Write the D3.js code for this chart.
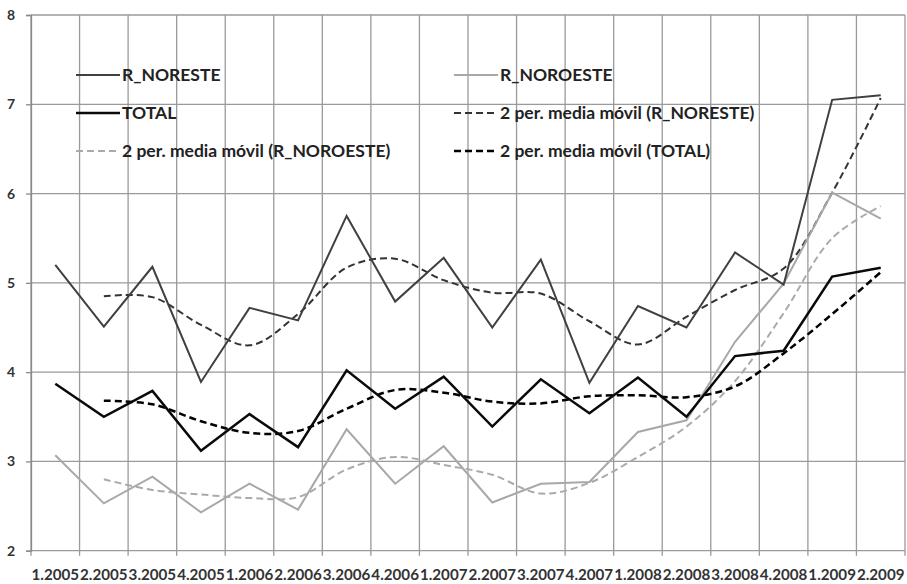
<!DOCTYPE html>
<html>
<head>
<meta charset="utf-8">
<script src="https://cdn.jsdelivr.net/npm/d3@7"></script>
<style>
  body { margin: 0; background: #fff; }
  text { font-family: Lato, "Open Sans", sans-serif; font-weight: bold; }
</style>
</head>
<body>
<script>
// chart data
var categories = ["1.2005", "2.2005", "3.2005", "4.2005", "1.2006", "2.2006", "3.2006", "4.2006",
  "1.2007", "2.2007", "3.2007", "4.2007", "1.2008", "2.2008", "3.2008", "4.2008", "1.2009", "2.2009"];
var noreste = [5.20, 4.51, 5.18, 3.89, 4.72, 4.58, 5.75, 4.79, 5.28, 4.50, 5.26, 3.88, 4.74, 4.50, 5.34, 4.98, 7.05, 7.10];
var noroeste = [3.07, 2.53, 2.83, 2.43, 2.75, 2.46, 3.36, 2.75, 3.17, 2.54, 2.75, 2.77, 3.33, 3.46, 4.34, 4.99, 6.01, 5.72];
var total = [3.87, 3.50, 3.79, 3.12, 3.53, 3.16, 4.02, 3.59, 3.95, 3.39, 3.92, 3.54, 3.94, 3.50, 4.18, 4.24, 5.07, 5.17];
// 2 per. media movil (first period has no value)
var maNoreste = [null, 4.85, 4.84, 4.53, 4.30, 4.65, 5.17, 5.27, 5.03, 4.89, 4.88, 4.57, 4.31, 4.62, 4.92, 5.16, 6.01, 7.07];
var maNoroeste = [null, 2.80, 2.68, 2.63, 2.59, 2.60, 2.91, 3.05, 2.96, 2.85, 2.64, 2.76, 3.05, 3.39, 3.90, 4.66, 5.50, 5.86];
var maTotal = [null, 3.68, 3.64, 3.45, 3.32, 3.34, 3.59, 3.80, 3.77, 3.67, 3.65, 3.73, 3.74, 3.72, 3.84, 4.21, 4.65, 5.12];
var yTicks = [2, 3, 4, 5, 6, 7, 8];

var w = 907;
var h = 584;
var plotLeft = 31, plotRight = 905, plotTop = 15, plotBottom = 550.7;

var svg = d3.select("body")
            .append("svg")
            .attr("width", w)
            .attr("height", h);

var x = d3.scaleBand()
  .domain(categories)
  .range([plotLeft, plotRight]);

var y = d3.scaleLinear()
  .domain([2, 8])
  .range([plotBottom, plotTop]);

// horizontal grid
svg.append("g").selectAll("line")
  .data(yTicks)
  .enter()
  .append("line")
  .attr("x1", plotLeft)
  .attr("x2", plotRight)
  .attr("y1", function(d) { return y(d); })
  .attr("y2", function(d) { return y(d); })
  .style("stroke", "#9a9a9a")
  .style("stroke-width", "1.3px");

// vertical grid at category boundaries
var bounds = categories.map(function(c) { return x(c); }).concat([plotRight]);
svg.append("g").selectAll("line")
  .data(bounds)
  .enter()
  .append("line")
  .attr("x1", function(d) { return d; })
  .attr("x2", function(d) { return d; })
  .attr("y1", plotTop)
  .attr("y2", plotBottom + 5)
  .style("stroke", "#9a9a9a")
  .style("stroke-width", "1.3px");

// y axis
var yAxis = svg.append("g")
  .attr("transform", "translate(" + plotLeft + ",0)")
  .call(d3.axisLeft(y).tickValues(yTicks).tickFormat(d3.format("d")).tickSize(5).tickPadding(11));
yAxis.select(".domain").style("stroke", "#8a8a8a").style("stroke-width", "1.3px");
yAxis.selectAll(".tick line").style("stroke", "#8a8a8a").style("stroke-width", "1.3px");
yAxis.selectAll("text")
  .style("font-family", "Lato, sans-serif")
  .style("font-weight", "bold")
  .style("font-size", "14px")
  .style("fill", "#333");

// x labels
svg.append("g").selectAll("text")
  .data(categories)
  .enter()
  .append("text")
  .text(function(d) { return d; })
  .attr("x", function(d) { return x(d) + x.bandwidth() / 2; })
  .attr("y", 580)
  .attr("text-anchor", "middle")
  .attr("textLength", x.bandwidth() - 1)
  .attr("lengthAdjust", "spacingAndGlyphs")
  .style("font-size", "15px")
  .style("fill", "#333");

// series
var series = [
  { name: "R_NORESTE", values: noreste, color: "#404040", width: 2, dash: null },
  { name: "R_NOROESTE", values: noroeste, color: "#a8a8a8", width: 2, dash: null },
  { name: "TOTAL", values: total, color: "#0a0a0a", width: 2.5, dash: null },
  { name: "2 per. media móvil (R_NORESTE)", values: maNoreste, color: "#333", width: 2, dash: "7,4", smooth: true },
  { name: "2 per. media móvil (R_NOROESTE)", values: maNoroeste, color: "#aaa", width: 2, dash: "7,4", smooth: true },
  { name: "2 per. media móvil (TOTAL)", values: maTotal, color: "#000", width: 2.5, dash: "7,4", smooth: true }
];

var drawOrder = [4, 3, 5, 1, 0, 2];
drawOrder.forEach(function(k) {
  var s = series[k];
  var line = d3.line()
    .defined(function(d) { return d != null; })
    .x(function(d, i) { return x(categories[i]) + x.bandwidth() / 2; })
    .y(function(d) { return y(d); });
  if (s.smooth) line.curve(d3.curveCatmullRom.alpha(0.5));
  svg.append("path")
    .attr("d", line(s.values))
    .style("fill", "none")
    .style("stroke", s.color)
    .style("stroke-width", s.width + "px")
    .style("stroke-dasharray", s.dash)
    .style("stroke-linejoin", "miter");
});

// legend
var legendPos = [
  [76, 75], [454, 75],
  [76, 113], [454, 113],
  [76, 151], [454, 151]
];
series.forEach(function(s, i) {
  var p = legendPos[i];
  svg.append("line")
    .attr("x1", p[0])
    .attr("x2", p[0] + 44)
    .attr("y1", p[1])
    .attr("y2", p[1])
    .style("stroke", s.color)
    .style("stroke-width", s.width + "px")
    .style("stroke-dasharray", s.dash);
  svg.append("text")
    .attr("x", p[0] + 46)
    .attr("y", p[1] + 6)
    .text(s.name)
    .style("font-size", "17.5px")
    .style("fill", "#222");
});
</script>
</body>
</html>
